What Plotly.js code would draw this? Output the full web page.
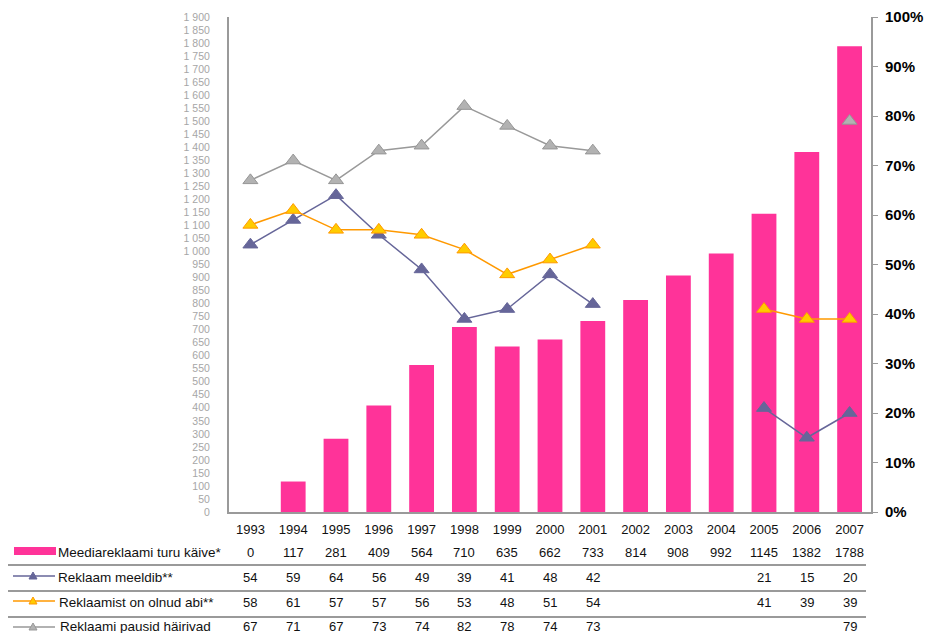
<!DOCTYPE html>
<html><head><meta charset="utf-8">
<script src="https://cdn.plot.ly/plotly-3.0.1.min.js"></script>
<style>body{margin:0;background:#fff}#c{width:925px;height:633px}</style>
</head><body><div id="c"></div>
<script>
const years = ['1993','1994','1995','1996','1997','1998','1999','2000','2001','2002','2003','2004','2005','2006','2007'];
const turnover = [0,117,281,409,564,710,635,662,733,814,908,992,1145,1382,1788];
const likeAds = [54,59,64,56,49,39,41,48,42,null,null,null,21,15,20];
const helpful = [58,61,57,57,56,53,48,51,54,null,null,null,41,39,39];
const breaksAnnoy = [67,71,67,73,74,82,78,74,73,null,null,null,null,null,79];
const labels = ['Meediareklaami turu käive*','Reklaam meeldib**','Reklaamist on olnud abi**','Reklaami pausid häirivad'];

const W=925,H=633,L=229,R=871,T=17,B=512;
const pw=R-L, ph=B-T;
const px=x=>(x-L)/pw, py=y=>(B-y)/ph;

const font='Liberation Sans, Arial, sans-serif';
const traces=[
 {type:'bar',x:years,y:turnover,name:labels[0],marker:{color:'#FF3399'},width:0.58,yaxis:'y'},
 {type:'scatter',mode:'lines+markers',x:years,y:likeAds,name:labels[1],yaxis:'y2',connectgaps:false,
  line:{color:'#666699',width:1.5},marker:{symbol:'triangle-up',size:13,color:'#666699',line:{color:'#666699',width:1}}},
 {type:'scatter',mode:'lines+markers',x:years,y:helpful,name:labels[2],yaxis:'y2',connectgaps:false,
  line:{color:'#FF9900',width:1.5},marker:{symbol:'triangle-up',size:13,color:'#FFCC00',line:{color:'#FF9900',width:1}}},
 {type:'scatter',mode:'lines+markers',x:years,y:breaksAnnoy,name:labels[3],yaxis:'y2',connectgaps:false,
  line:{color:'#999999',width:1.5},marker:{symbol:'triangle-up',size:13,color:'#B2B2B2',line:{color:'#969696',width:1}}}
];

const rows=[
 {label:labels[0],data:turnover,y:552},
 {label:labels[1],data:likeAds,y:577},
 {label:labels[2],data:helpful,y:602},
 {label:labels[3],data:breaksAnnoy,y:626}
];
const annotations=[], shapes=[];
const labelX=[56,56,57,58];
rows.forEach((r,ri)=>{
  annotations.push({xref:'paper',yref:'paper',x:px(labelX[ri]),y:py(r.y),text:r.label,showarrow:false,xanchor:'left',yanchor:'middle',font:{family:font,size:13.5,color:'#111'}});
  r.data.forEach((v,i)=>{
    if(v===null) return;
    annotations.push({xref:'x',yref:'paper',x:i,y:py(r.y),text:String(v),showarrow:false,xanchor:'center',yanchor:'middle',font:{family:font,size:13,color:'#111'}});
  });
});
[565,591,617].forEach(y=>{
  shapes.push({type:'line',xref:'paper',yref:'paper',x0:px(8),x1:px(866),y0:py(y),y1:py(y),line:{color:'#9a9a9a',width:2}});
});
shapes.push({type:'rect',xref:'paper',yref:'paper',x0:px(14),x1:px(56),y0:py(547),y1:py(555),fillcolor:'#FF3399',line:{width:0}});
const sym=[{y:576,c:'#666699',f:'#666699'},{y:601,c:'#FF9900',f:'#FFCC00'},{y:627,c:'#999999',f:'#B2B2B2'}];
sym.forEach(s=>{
  shapes.push({type:'line',xref:'paper',yref:'paper',x0:px(13),x1:px(55),y0:py(s.y),y1:py(s.y),line:{color:s.c,width:1.5}});
  const cx=33, cy=s.y;
  const path=`M ${px(cx-4)},${py(cy+3)} L ${px(cx+4)},${py(cy+3)} L ${px(cx)},${py(cy-4)} Z`;
  shapes.push({type:'path',xref:'paper',yref:'paper',path:path,fillcolor:s.f,line:{color:s.c,width:1}});
});

const layout={
 width:W,height:H,margin:{l:L,r:W-R,t:T,b:H-B,pad:0},
 paper_bgcolor:'#fff',plot_bgcolor:'#fff',showlegend:false,
 separators:', ',
 font:{family:font},
 xaxis:{type:'category',range:[-0.5,years.length-0.5],autorange:false,showline:true,linecolor:'#9a9a9a',linewidth:2,showgrid:false,ticks:'',
   tickfont:{family:font,size:13,color:'#111'},ticklabelstandoff:4,zeroline:false},
 yaxis:{range:[0,1900],dtick:50,tick0:0,tickformat:',d',showline:true,linecolor:'#9a9a9a',linewidth:2,
   showgrid:false,zeroline:false,ticks:'',tickfont:{family:font,size:10.5,color:'#A6A6A6'},ticklabelstandoff:15},
 yaxis2:{overlaying:'y',side:'right',range:[0,100],dtick:10,ticksuffix:'%',showline:true,linecolor:'#9a9a9a',linewidth:2,
   showgrid:false,zeroline:false,ticks:'outside',ticklen:5,tickcolor:'#9a9a9a',tickwidth:1,
   tickfont:{family:font,size:15,color:'#000',weight:'bold'},ticklabelstandoff:4},
 annotations:annotations,shapes:shapes
};
Plotly.newPlot('c',traces,layout,{staticPlot:true});
</script></body></html>
